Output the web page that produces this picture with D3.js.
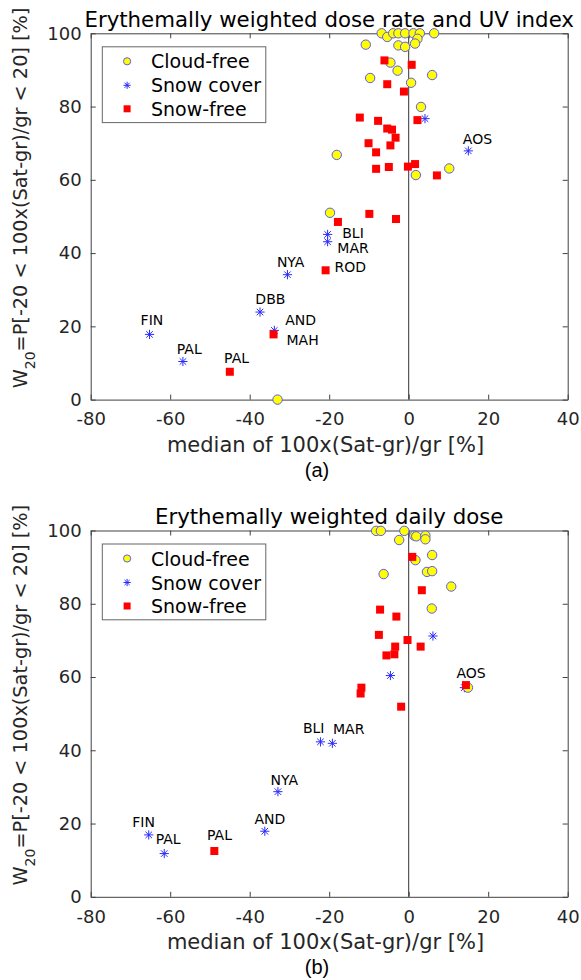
<!DOCTYPE html>
<html>
<head>
<meta charset="utf-8">
<script src="https://cdn.jsdelivr.net/npm/d3@7"></script>
<style>
  body { margin: 0; background: #fff; }
  svg { display: block; font-family: "DejaVu Sans", sans-serif; }
</style>
</head>
<body>
<div id="chart"></div>
<script>
// x/y pairs: [median bias %, W20 %]
// (a) erythemally weighted dose rate and UV index
const aCloudFree = [[-6.8, 100], [-5.4, 99], [-3.9, 100], [-2.6, 100], [-0.9, 100], [1.2, 100],
  [2.8, 100], [2.2, 98.5], [1.6, 97.2], [6.4, 100], [-10.8, 96.9], [-2.6, 96.7], [-0.9, 96.3],
  [-4.6, 92.0], [-2.8, 89.8], [5.9, 88.6], [-9.7, 87.8], [0.6, 86.5], [3.1, 79.9], [-18.1, 66.8],
  [10.2, 63.1], [1.8, 61.3], [-19.8, 51.0], [-33.0, 0]];
const aSnowCover = [[4.1, 76.7], [15.0, 67.9], [-20.4, 45.1], [-20.4, 43.1], [-30.5, 34.1],
  [-37.4, 23.9], [-33.8, 18.9], [-65.2, 17.8], [-56.8, 10.4]];
const aSnowFree = [[-6.1, 92.6], [0.75, 91.4], [-5.4, 86.1], [-1.2, 84.1], [-12.3, 77.0],
  [-7.7, 76.1], [2.2, 76.3], [-5.4, 74.0], [-4.2, 73.7], [-3.3, 71.5], [-10.1, 70.0], [-4.6, 69.4],
  [-8.2, 67.5], [-8.2, 63.0], [-5.0, 63.5], [-0.2, 63.6], [1.6, 64.3], [7.1, 61.2], [-17.8, 48.5],
  [-9.9, 50.7], [-3.2, 49.3], [-20.9, 35.3], [-34.0, 17.8], [-45.0, 7.6]];
const aLabels = [["AOS", 17.3, 71.2], ["BLI", -14.0, 45.6], ["MAR", -14.0, 41.4], ["ROD", -14.7, 36.2],
  ["NYA", -29.7, 37.6], ["DBB", -34.8, 27.5], ["AND", -27.2, 21.8], ["MAH", -26.7, 16.2],
  ["FIN", -64.6, 21.8], ["PAL", -55.2, 13.8], ["PAL", -43.3, 11.4]];

// (b) erythemally weighted daily dose
const bCloudFree = [[-8.2, 99.9], [-7.0, 99.9], [-1.1, 99.9], [1.4, 98.6], [1.9, 98.4], [4.2, 98.6],
  [4.2, 97.6], [-2.4, 97.4], [5.9, 93.3], [1.7, 91.9], [4.6, 88.7], [5.9, 88.9], [-6.3, 88.1],
  [10.7, 84.7], [5.8, 78.7], [14.9, 57.1]];
const bSnowCover = [[6.1, 71.2], [-4.6, 60.4], [14.0, 57.1], [-22.2, 42.3], [-19.2, 41.9],
  [-32.9, 28.7], [-36.2, 17.9], [-65.4, 16.9], [-61.5, 11.8]];
const bSnowFree = [[0.9, 92.8], [3.3, 83.7], [-7.2, 78.4], [-3.1, 76.5], [-7.5, 71.5], [-0.3, 70.1],
  [-3.4, 68.3], [3.0, 68.3], [-3.6, 66.2], [-5.6, 65.9], [-11.9, 57.1], [-12.1, 55.5], [-1.9, 51.9],
  [14.4, 57.8], [-48.9, 12.5]];
const bLabels = [["AOS", 15.7, 61.0], ["BLI", -23.9, 46.1], ["MAR", -15.1, 45.8], ["NYA", -31.3, 31.8],
  ["AND", -34.9, 21.3], ["FIN", -66.7, 20.4], ["PAL", -60.5, 15.9], ["PAL", -47.6, 17.0]];

const xTicks = [-80, -60, -40, -20, 0, 20, 40];
const yTicks = [0, 20, 40, 60, 80, 100];
const seriesNames = ["Cloud-free", "Snow cover", "Snow-free"];

const panels = [
  { title: "Erythemally weighted dose rate and UV index", tag: "(a)", top: 33.3,
    cloud: aCloudFree, snow: aSnowCover, free: aSnowFree, labels: aLabels },
  { title: "Erythemally weighted daily dose", tag: "(b)", top: 530.5,
    cloud: bCloudFree, snow: bSnowCover, free: bSnowFree, labels: bLabels }
];

const width = 581, height = 980;
const left = 90.7, right = 567.7, plotH = 366.3;
const axisColor = "#404040", textColor = "#262626";

const svg = d3.select("#chart").append("svg")
  .attr("width", width)
  .attr("height", height);

const starPath = r => {
  const k = r * 0.7071;
  return `M${-r},0H${r}M0,${-r}V${r}M${-k},${-k}L${k},${k}M${-k},${k}L${k},${-k}`;
};

const drawCircles = (g, data, x, y, r) => g.selectAll(null).data(data).enter().append("circle")
  .attr("cx", d => x(d[0])).attr("cy", d => y(d[1])).attr("r", r)
  .attr("fill", "#ffff00").attr("stroke", "#5b5bf0").attr("stroke-width", 1);

const drawStars = (g, data, x, y, r) => g.selectAll(null).data(data).enter().append("path")
  .attr("transform", d => `translate(${x(d[0])},${y(d[1])})`)
  .attr("d", starPath(r))
  .attr("fill", "none").attr("stroke", "#2a2aff").attr("stroke-width", 1);

const drawSquares = (g, data, x, y, s) => g.selectAll(null).data(data).enter().append("rect")
  .attr("x", d => x(d[0]) - s / 2).attr("y", d => y(d[1]) - s / 2)
  .attr("width", s).attr("height", s)
  .attr("fill", "#ff0000");

panels.forEach(p => {
  const x = d3.scaleLinear().domain([-80, 40]).range([left, right]);
  const y = d3.scaleLinear().domain([0, 100]).range([p.top + plotH, p.top]);
  const g = svg.append("g");

  // zero line
  g.append("line")
    .attr("x1", x(0)).attr("x2", x(0))
    .attr("y1", y(0)).attr("y2", y(100))
    .attr("stroke", "#333").attr("stroke-width", 1);

  // axes (MATLAB-style box with inward ticks)
  const styleAxis = a => {
    a.select(".domain").attr("stroke", axisColor);
    a.selectAll(".tick line").attr("stroke", axisColor);
    a.selectAll(".tick text").attr("fill", textColor).style("font-size", "18px")
      .style("font-family", "DejaVu Sans");
  };
  g.append("g").attr("transform", `translate(0,${y(0)})`)
    .call(d3.axisBottom(x).tickValues(xTicks).tickSizeInner(-5).tickSizeOuter(0).tickPadding(13)
      .tickFormat(d => String(d)))
    .call(styleAxis);
  g.append("g").attr("transform", `translate(0,${y(100)})`)
    .call(d3.axisTop(x).tickValues(xTicks).tickSizeInner(-5).tickSizeOuter(0).tickFormat(""))
    .call(styleAxis);
  g.append("g").attr("transform", `translate(${left},0)`)
    .call(d3.axisLeft(y).tickValues(yTicks).tickSizeInner(-5).tickSizeOuter(0).tickPadding(9)
      .tickFormat(d => String(d)))
    .call(styleAxis);
  g.append("g").attr("transform", `translate(${right},0)`)
    .call(d3.axisRight(y).tickValues(yTicks).tickSizeInner(-5).tickSizeOuter(0).tickFormat(""))
    .call(styleAxis);

  // markers
  drawStars(g, p.snow, x, y, 4.6);
  drawCircles(g, p.cloud, x, y, 4.7);
  drawSquares(g, p.free, x, y, 8);

  // station labels
  g.selectAll(null).data(p.labels).enter().append("text")
    .attr("x", d => x(d[1])).attr("y", d => y(d[2]))
    .attr("text-anchor", "middle").attr("dominant-baseline", "central")
    .attr("fill", "#000").style("font-size", "14px")
    .text(d => d[0]);

  // title
  g.append("text")
    .attr("x", (left + right) / 2).attr("y", p.top - 6.5)
    .attr("text-anchor", "middle").attr("fill", "#000")
    .style("font-size", "21.3px").text(p.title);

  // x label and panel tag
  g.append("text")
    .attr("x", 325.5).attr("y", y(0) + 52)
    .attr("text-anchor", "middle").attr("fill", textColor)
    .style("font-size", "21px").text("median of 100x(Sat-gr)/gr [%]");
  g.append("text")
    .attr("x", 317).attr("y", y(0) + 77)
    .attr("text-anchor", "middle").attr("fill", "#000")
    .style("font-family", "Liberation Sans").style("font-size", "20px").text(p.tag);

  // y label
  const yl = g.append("text")
    .attr("transform", `translate(27,${p.top + plotH / 2 - 18.5}) rotate(-90)`)
    .attr("text-anchor", "middle").attr("fill", textColor)
    .style("font-size", "19.3px");
  yl.append("tspan").text("W");
  yl.append("tspan").attr("baseline-shift", "sub").style("font-size", "14px").text("20");
  yl.append("tspan").text("=P[-20 < 100x(Sat-gr)/gr < 20] [%]");

  // legend
  const lg = g.append("g").attr("transform", `translate(102.3,${p.top + 13.5})`);
  lg.append("rect")
    .attr("width", 163.5).attr("height", 75.8)
    .attr("fill", "#fff").attr("stroke", "#666").attr("stroke-width", 1);
  const rows = [14.5, 38.5, 62];
  const mx = 24.8;
  lg.append("circle").attr("cx", mx).attr("cy", rows[0]).attr("r", 3.6)
    .attr("fill", "#ffff00").attr("stroke", "#5b5bf0");
  lg.append("path").attr("transform", `translate(${mx},${rows[1]})`).attr("d", starPath(3.6))
    .attr("fill", "none").attr("stroke", "#2a2aff");
  lg.append("rect").attr("x", mx - 3.5).attr("y", rows[2] - 3.5).attr("width", 7).attr("height", 7)
    .attr("fill", "#ff0000");
  lg.selectAll(null).data(seriesNames).enter().append("text")
    .attr("x", 48.7).attr("y", (d, i) => rows[i])
    .attr("dominant-baseline", "central").attr("fill", "#000")
    .style("font-size", "19px").text(d => d);
});
</script>
</body>
</html>
